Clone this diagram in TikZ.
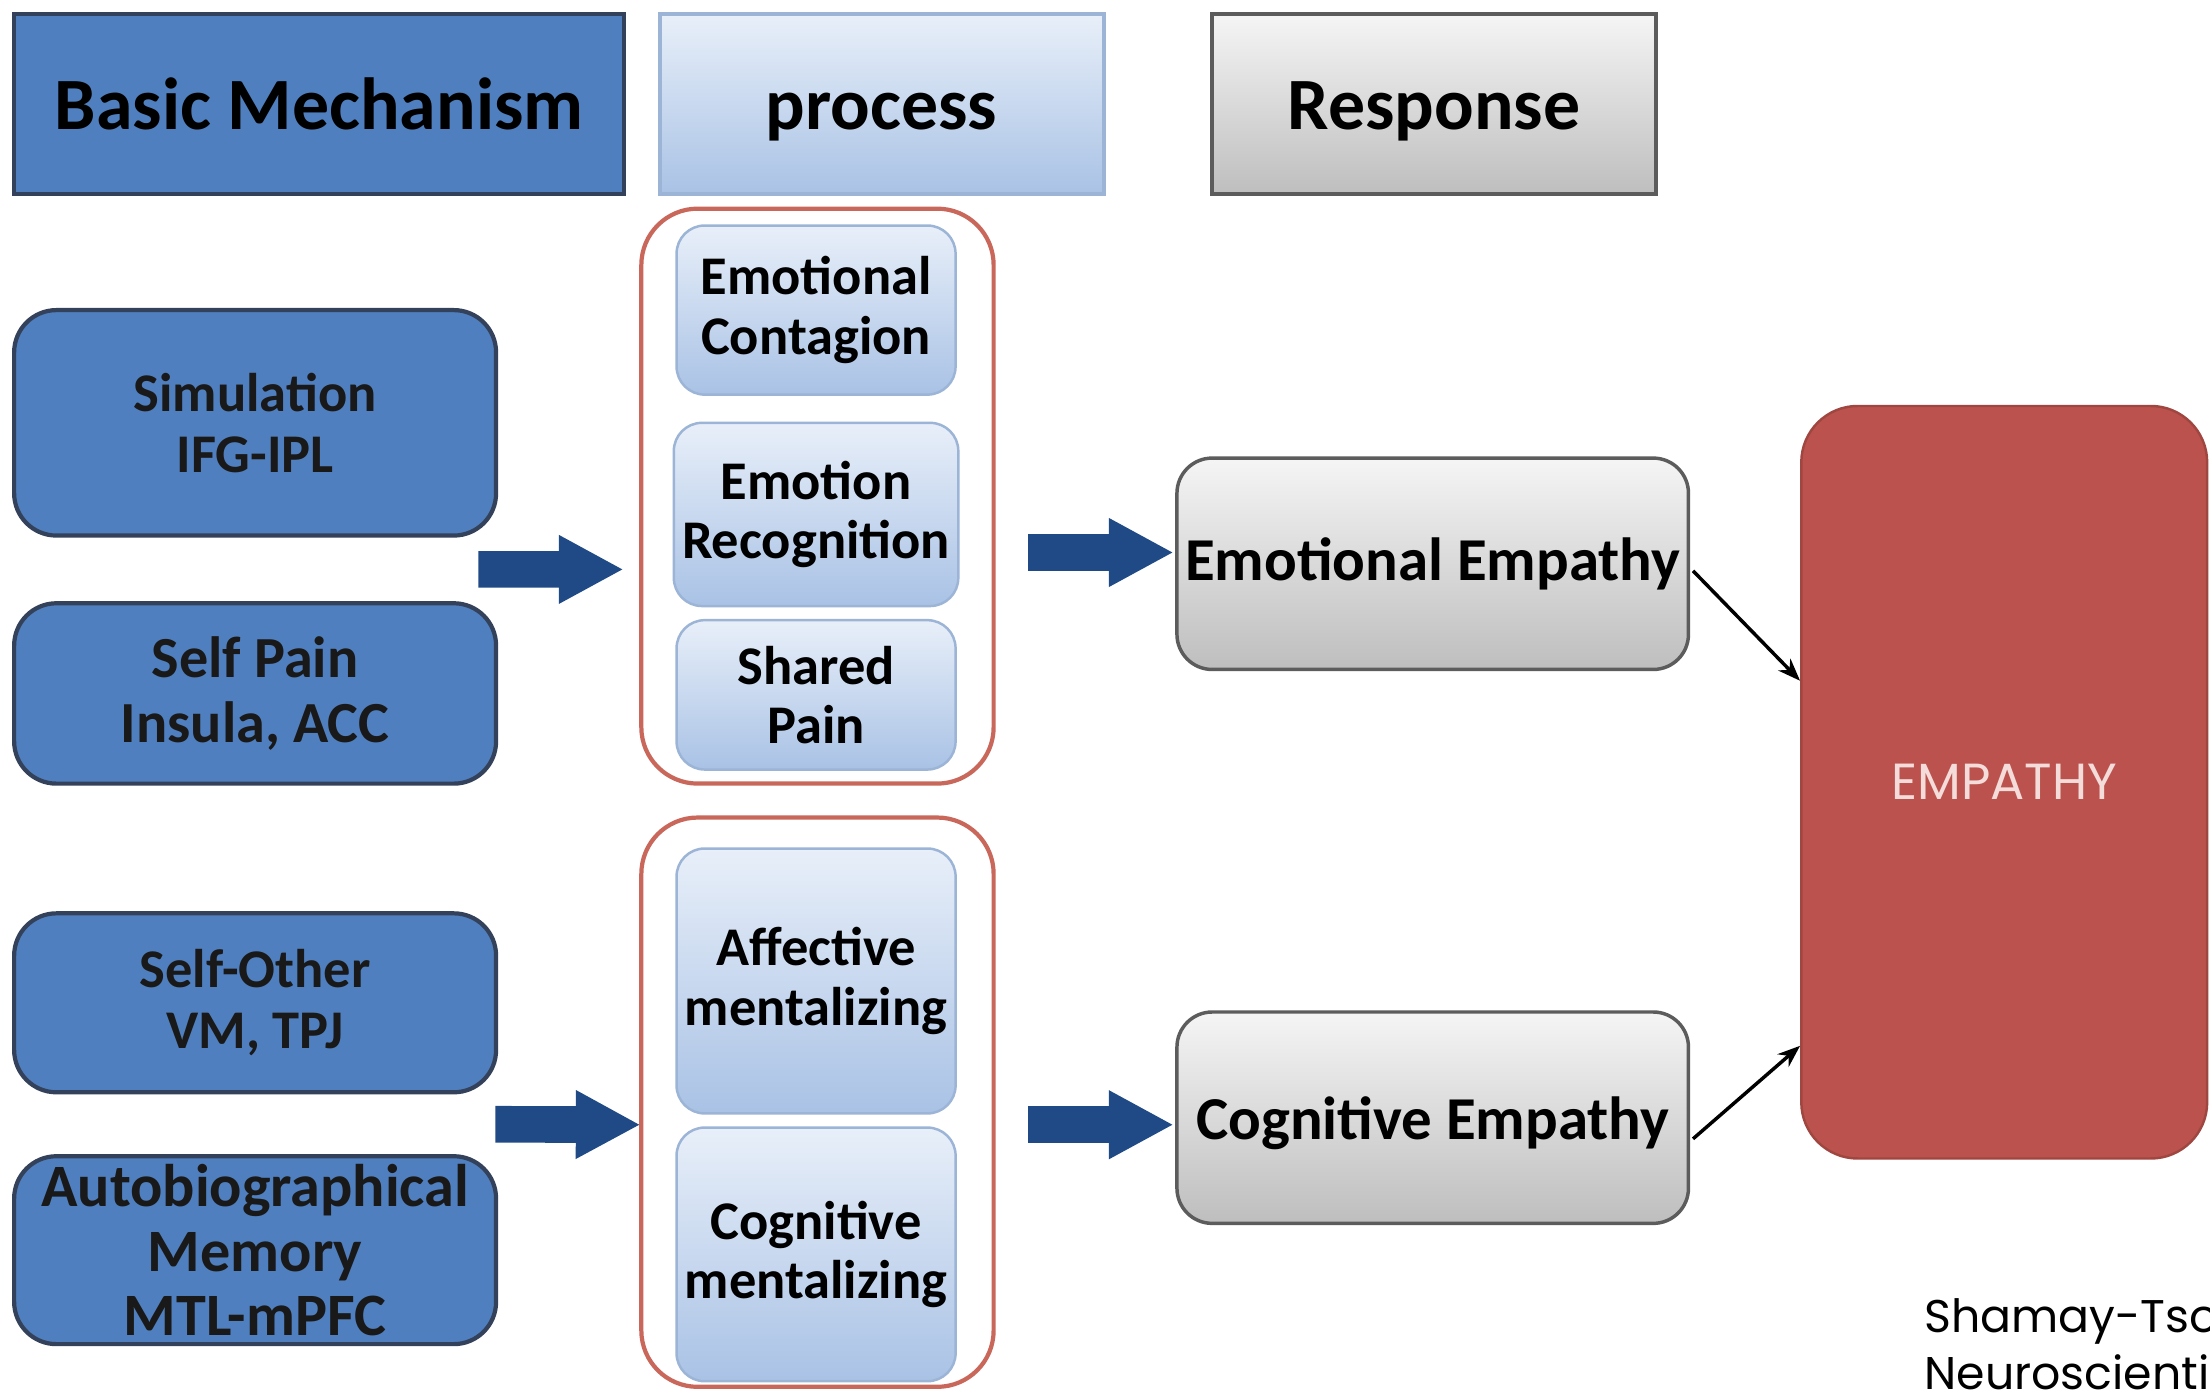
\documentclass[tikz,border=0pt]{standalone}
\usepackage{fontspec}
\setmainfont{Carlito}
\newfontfamily\citefont{Poppins}
\usetikzlibrary{arrows.meta,calc}

\definecolor{mechblue}{HTML}{4F7FBE}
\definecolor{mechedge}{HTML}{34415A}
\definecolor{arrowblue}{HTML}{1F4A86}
\definecolor{proctop}{HTML}{E8EFF9}
\definecolor{procbot}{HTML}{A9C2E5}
\definecolor{procedge}{HTML}{9CB4D6}
\definecolor{groupedge}{HTML}{C8675A}
\definecolor{resptop}{HTML}{F5F5F5}
\definecolor{respbot}{HTML}{BEBEBE}
\definecolor{respedge}{HTML}{5C5C5C}
\definecolor{empred}{HTML}{BC524D}
\definecolor{emptext}{HTML}{F4DCDA}

\tikzset{
  hdrbox/.style={draw=#1, line width=1.6pt, minimum height=2.56cm, text=black,
    text height=26pt, text depth=6pt, font=\fontsize{29.8}{34}\selectfont\bfseries},
  mechbox/.style={draw=mechedge, fill=mechblue, line width=1.7pt, rounded corners=0.6cm,
    minimum width=6.84cm, align=center, text=black!90,
    font=\fontsize{22}{24.5}\selectfont\bfseries},
  groupbox/.style={draw=groupedge, line width=1.7pt, rounded corners=0.8cm, minimum width=5cm},
  procbox/.style={draw=procedge, top color=proctop, bottom color=procbot, line width=1pt,
    rounded corners=0.4cm, minimum width=3.96cm, align=center, text=black,
    font=\fontsize{22}{24}\selectfont\bfseries},
  respbox/.style={draw=respedge, top color=resptop, bottom color=respbot, line width=1.4pt,
    rounded corners=0.5cm, minimum width=7.26cm, minimum height=3cm, text=black,
    font=\fontsize{24.6}{28}\selectfont\bfseries},
  blockarrow/.style={arrowblue, line width=0.52cm,
    -{Triangle[length=0.9cm, width=0.98cm, line width=0pt]}},
  linkarrow/.style={black, line width=1.4pt, -{Stealth[length=0.32cm, width=0.24cm]}}
}

\begin{document}
\begin{tikzpicture}[x=0.02cm, y=-0.02cm]
\useasboundingbox (0,0) rectangle (1568,986);
\fill[white] (0,0) rectangle (1568,986);
\clip (0,0) rectangle (1568,986);

\node[hdrbox=mechedge, fill=mechblue, minimum width=8.66cm] (basic) at (226.5,74) {Basic Mechanism};
\node[hdrbox=procedge, top color=proctop, bottom color=procbot, minimum width=6.3cm] (proc) at (625.5,74) {process};
\node[hdrbox=respedge, top color=resptop, bottom color=respbot, minimum width=6.3cm] (resp) at (1017.5,74) {Response};

\node[mechbox, minimum height=3.2cm] (sim) at (181,300) {Simulation\\IFG-IPL};
\node[mechbox, minimum height=2.56cm, font=\fontsize{23.5}{26.5}\selectfont\bfseries] (selfpain) at (181,492) {Self Pain\\Insula, ACC};
\node[mechbox, minimum height=2.54cm] (selfother) at (181,711.5) {Self-Other\\VM, TPJ};
\node[mechbox, minimum height=2.56cm, font=\fontsize{24.3}{26}\selectfont\bfseries] (autobio) at (181,887) {Autobiographical\\Memory\\MTL-mPFC};

\node[groupbox, minimum height=8.16cm] (grpEmo) at (580,352) {};
\node[groupbox, minimum height=8.08cm] (grpCog) at (580,782) {};

\node[procbox, minimum height=2.4cm] (contag) at (579,220) {Emotional\\Contagion};
\node[procbox, minimum height=2.6cm] (recog) at (579,365) {Emotion\\Recognition};
\node[procbox, minimum height=2.12cm] (shared) at (579,493) {Shared\\Pain};
\node[procbox, minimum height=3.76cm] (affect) at (579,696) {Affective\\mentalizing};
\node[procbox, minimum height=3.6cm] (cogment) at (579,890) {Cognitive\\mentalizing};

\node[respbox] (emoEmp) at (1016.5,400) {Emotional Empathy};
\node[respbox, text height=19pt, text depth=1pt] (cogEmp) at (1016.5,793) {Cognitive Empathy};

\node[draw=empred!85!black, fill=empred, line width=1pt, rounded corners=0.8cm,
  minimum width=5.76cm, minimum height=10.68cm, text=emptext,
  font=\citefont\fontsize{20.5}{24}\selectfont] (empathy) at (1422,555) {EMPATHY};

\node[anchor=base west, inner sep=0pt, align=left, text=black,
  font=\citefont\fontsize{18.5}{23}\selectfont] (cite) at (1365,986) {Shamay-Tsoory\\Neuroscientist};

\path[blockarrow]
($(sim.south east)!.5!(selfpain.north east)+(-14,0)$) edge ($(grpEmo.west)+(-12,52)$)
($(selfother.south east)!.5!(autobio.north east)+(-2,0)$) edge ($(grpCog.west)+(0,16)$)
($(grpEmo.east)+(23,40)$) edge ($(emoEmp.west)+(-2,-8)$)
($(grpCog.east)+(23,16)$) edge ($(cogEmp.west)+(-2,5)$);
\path[linkarrow]
($(emoEmp.east)+(2,5)$) edge ($(empathy.west)+(0,-72)$)
($(cogEmp.east)+(2,15)$) edge ($(empathy.west)+(0,187)$);
\end{tikzpicture}
\end{document}
